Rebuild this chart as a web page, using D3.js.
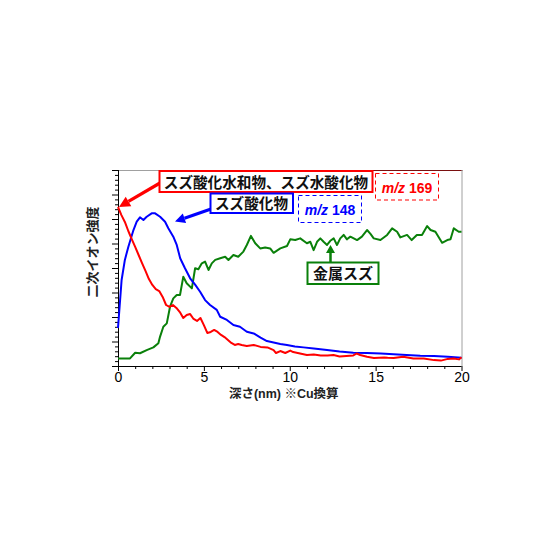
<!DOCTYPE html>
<html>
<head>
<meta charset="utf-8">
<script src="https://cdn.jsdelivr.net/npm/d3@7"></script>
<style>
html,body{margin:0;padding:0;background:#fff;}
svg{display:block;}
</style>
</head>
<body>
<svg id="chart" width="560" height="560"></svg>
<script>
// ---- data (depth in nm, intensity in arbitrary units) ----
const xTicks = [0, 5, 10, 15, 20];
const xTickLabels = ["0", "5", "10", "15", "20"];
const xAxisTitle = "深さ(nm) ※Cu換算";
const yAxisTitle = "二次イオン強度";

const redDepth = [0,0.2,0.4,0.6,0.8,1.0,1.2,1.4,1.6,1.8,2.0,2.2,2.4,2.6,2.8,3.0,3.2,3.4,3.6,3.8,4.0,4.2,4.4,4.6,4.8,5.0,5.2,5.4,5.6,5.8,6.0,6.2,6.4,6.6,6.8,7.0,7.2,7.5,7.9,8.3,8.7,9.06,9.2,9.45,9.74,10.03,10.2,10.6,11.0,11.4,11.8,12.2,12.55,12.9,13.3,13.7,13.9,14.1,14.5,14.9,15.5,15.7,16.05,16.6,17.2,17.8,18.4,18.8,19.2,19.55,19.85,20];
const redValues = [6.49,6.16,5.88,5.51,5.18,4.86,4.53,4.20,3.88,3.55,3.31,3.14,3.06,2.82,2.49,2.41,2.49,2.37,2.20,1.96,2.08,2.12,1.92,1.84,1.96,1.67,1.35,1.39,1.47,1.39,1.27,1.18,1.06,0.94,0.86,0.90,0.86,0.82,0.86,0.78,0.76,0.65,0.53,0.61,0.53,0.63,0.57,0.51,0.45,0.47,0.43,0.43,0.45,0.39,0.41,0.43,0.51,0.45,0.38,0.33,0.35,0.34,0.33,0.38,0.31,0.31,0.24,0.22,0.29,0.31,0.27,0.36];

const blueDepth = [0,0.21,0.4,0.6,0.9,1.09,1.28,1.48,1.67,1.96,2.16,2.45,2.74,2.93,3.22,3.42,3.62,3.9,4.2,4.5,4.78,5.07,5.36,5.75,5.95,6.34,6.72,7.1,7.5,7.9,8.3,8.67,9.06,9.45,9.84,10.3,10.8,11.4,12.17,12.9,13.7,14.5,15.3,16.05,16.8,17.6,18.4,19.2,20];
const blueValues = [1.55,3.51,4.33,4.86,5.55,5.89,6.07,5.96,6.09,6.23,6.23,6.09,5.89,5.62,5.28,4.94,4.40,3.99,3.58,3.31,3.03,2.69,2.49,2.29,2.01,1.88,1.67,1.60,1.40,1.33,1.16,1.02,0.96,0.90,0.86,0.80,0.76,0.71,0.65,0.59,0.54,0.53,0.51,0.48,0.45,0.42,0.41,0.38,0.34];

const greenDepth = [0,0.3,0.7,1.0,1.28,1.67,2.06,2.35,2.45,2.64,2.84,3.03,3.22,3.42,3.61,3.8,4.0,4.3,4.49,4.68,4.88,5.07,5.27,5.46,5.66,5.95,6.24,6.43,6.72,7.0,7.3,7.5,7.74,7.99,8.28,8.57,8.86,9.06,9.45,9.84,10.03,10.32,10.61,11.0,11.2,11.39,11.59,11.78,11.97,12.17,12.36,12.56,12.75,12.94,13.14,13.33,13.53,13.92,14.2,14.5,14.7,14.89,15.28,15.67,15.96,16.25,16.44,16.83,17.1,17.4,17.7,18.0,18.2,18.48,18.87,19.17,19.36,19.55,19.84,20];
const greenValues = [0.31,0.31,0.31,0.54,0.52,0.65,0.76,0.93,1.20,1.60,1.74,2.42,2.76,2.90,2.90,3.64,3.38,3.17,3.99,3.95,4.19,4.26,3.92,4.19,4.33,4.40,4.46,4.33,4.53,4.46,4.67,4.94,5.31,5.01,4.80,4.84,4.80,4.62,4.80,4.90,5.17,5.14,5.21,5.01,5.07,4.73,5.07,5.21,5.07,4.94,5.11,5.21,4.94,5.21,5.35,5.17,5.28,5.14,5.28,5.55,5.39,5.21,5.14,5.35,5.62,5.48,5.25,5.35,5.14,5.35,5.35,5.71,5.55,5.48,5.03,5.14,5.17,5.62,5.48,5.48];

const labels = {
  red: "スズ酸化水和物、スズ水酸化物",
  blue: "スズ酸化物",
  green: "金属スズ",
  redMass: "169",
  blueMass: "148",
  massPrefix: "m/z"
};

// ---- layout ----
const svg = d3.select("#chart");
const pLeft = 118, pRight = 461.5, pTop = 170, pBottom = 366;
const x = d3.scaleLinear().domain([0, 20]).range([pLeft, pRight]);
const y = d3.scaleLinear().domain([0, 8]).range([pBottom, pTop]);
const FONT = "'Liberation Sans', Arial, 'Noto Sans CJK JP', sans-serif";
const JFONT = "'Noto Sans CJK JP', 'Liberation Sans', sans-serif";

// frame (top / right)
svg.append("line").attr("x1", pLeft).attr("x2", 159).attr("y1", pTop + 0.5).attr("y2", pTop + 0.5)
  .attr("stroke", "#a0a0a0").attr("stroke-width", 1);
svg.append("line").attr("x1", 159).attr("x2", pRight + 1).attr("y1", pTop + 0.5).attr("y2", pTop + 0.5)
  .attr("stroke", "#7a1010").attr("stroke-width", 1.2);
svg.append("line").attr("x1", pRight + 0.5).attr("x2", pRight + 0.5).attr("y1", pTop).attr("y2", pBottom)
  .attr("stroke", "#a0a0a0").attr("stroke-width", 1);

// x axis
const xMinor = d3.range(0, 21, 1).filter(v => v % 5 !== 0);
const gx = svg.append("g").attr("transform", `translate(0,${pBottom})`);
gx.call(d3.axisBottom(x).tickValues(xMinor).tickSize(3).tickFormat(""));
gx.call(g => g.select(".domain").remove());
const gx2 = svg.append("g").attr("transform", `translate(0,${pBottom})`)
  .call(d3.axisBottom(x).tickValues(xTicks).tickSize(5).tickPadding(1)
    .tickFormat((d, i) => xTickLabels[i]));
gx2.selectAll("text").attr("font-family", FONT).attr("font-size", 14).attr("fill", "#000");
gx2.select(".domain").attr("stroke", "#000").attr("d", `M${pLeft},0.5H${pRight}`);

// y axis (no labels)
const yMinor = d3.range(0, 40.5, 1).map(v => v / 5).filter((v, i) => i % 5 !== 0);
const yMajor = d3.range(0, 9, 1);
const gy = svg.append("g").attr("transform", `translate(${pLeft},0)`);
gy.call(d3.axisLeft(y).tickValues(yMinor).tickSize(3).tickFormat(""));
gy.select(".domain").remove();
const gy2 = svg.append("g").attr("transform", `translate(${pLeft},0)`);
gy2.call(d3.axisLeft(y).tickValues(yMajor).tickSize(6).tickFormat(""));
gy2.select(".domain").attr("stroke", "#000").attr("d", `M0.5,${pTop}V${pBottom}`);
svg.selectAll(".tick line").attr("stroke", "#000");

// axis titles
svg.append("text").attr("x", (pLeft + pRight) / 2 - 6).attr("y", 397.5)
  .attr("text-anchor", "middle").attr("font-family", FONT).attr("font-weight", "bold")
  .attr("font-size", 12.5).attr("fill", "#222").text(xAxisTitle);
svg.append("text").attr("transform", "translate(97,252) rotate(-90)")
  .attr("text-anchor", "middle").attr("font-family", JFONT).attr("font-weight", "bold")
  .attr("font-size", 13).attr("fill", "#222").text(yAxisTitle);

// series
const line = d3.line().x(d => x(d[0])).y(d => y(d[1]));
function drawSeries(depth, vals, color) {
  svg.append("path").datum(depth.map((d, i) => [d, vals[i]]))
    .attr("d", line).attr("fill", "none").attr("stroke", color)
    .attr("stroke-width", 2).attr("stroke-linejoin", "round");
}
drawSeries(greenDepth, greenValues, "#0a800a");
drawSeries(blueDepth, blueValues, "#0000ff");
drawSeries(redDepth, redValues, "#ff0000");

// arrow helper
function arrow(x1, y1, x2, y2, color, w, headLen, headW) {
  const ang = Math.atan2(y2 - y1, x2 - x1);
  const bx = x2 - headLen * Math.cos(ang), by = y2 - headLen * Math.sin(ang);
  svg.append("line").attr("x1", x1).attr("y1", y1).attr("x2", bx).attr("y2", by)
    .attr("stroke", color).attr("stroke-width", w);
  const px = -Math.sin(ang) * headW, py = Math.cos(ang) * headW;
  svg.append("path").attr("d", `M${x2},${y2}L${bx + px},${by + py}L${bx - px},${by - py}Z`)
    .attr("fill", color);
}

// box helper
function box(x0, y0, w, h, color, dashed, sw) {
  svg.append("rect").attr("x", x0).attr("y", y0).attr("width", w).attr("height", h)
    .attr("fill", "#fff").attr("stroke", color).attr("stroke-width", sw)
    .attr("stroke-dasharray", dashed ? "4,3" : null);
}

// red label + arrow
arrow(160, 183, x(redDepth[0]) + 1, y(redValues[0]), "#ff0000", 3.2, 11, 5.5);
box(159.5, 171, 213, 21, "#ff0000", false, 2);
svg.append("text").attr("x", 266).attr("y", 187.5).attr("text-anchor", "middle")
  .attr("font-family", JFONT).attr("font-weight", "bold").attr("font-size", 14.6)
  .attr("fill", "#111").text(labels.red);

// blue label + arrow
arrow(211, 209, 175, 221.5, "#0000ff", 3, 10, 5);
box(210.5, 193.5, 82.5, 19.5, "#0000ff", false, 2);
svg.append("text").attr("x", 251.5).attr("y", 209).attr("text-anchor", "middle")
  .attr("font-family", JFONT).attr("font-weight", "bold").attr("font-size", 14.6)
  .attr("fill", "#111").text(labels.blue);

// m/z boxes
box(298.5, 195.5, 63, 27, "#0000ff", true, 1);
const tb = svg.append("text").attr("x", 330).attr("y", 215).attr("text-anchor", "middle")
  .attr("font-family", FONT).attr("font-weight", "bold").attr("font-size", 14).attr("fill", "#0000ff");
tb.append("tspan").attr("font-style", "italic").text(labels.massPrefix + " ");
tb.append("tspan").text(labels.blueMass);

box(375.5, 173.5, 63, 26.5, "#ff0000", true, 1);
const tr = svg.append("text").attr("x", 407).attr("y", 193).attr("text-anchor", "middle")
  .attr("font-family", FONT).attr("font-weight", "bold").attr("font-size", 14).attr("fill", "#ff0000");
tr.append("tspan").attr("font-style", "italic").text(labels.massPrefix + " ");
tr.append("tspan").text(labels.redMass);

// green label + arrow
arrow(330.5, 263, 330.5, 245, "#0a800a", 2.5, 8, 4.5);
box(307.5, 262.5, 71, 21.5, "#0a800a", false, 2);
svg.append("text").attr("x", 343).attr("y", 279).attr("text-anchor", "middle")
  .attr("font-family", JFONT).attr("font-weight", "bold").attr("font-size", 15)
  .attr("fill", "#111").text(labels.green);
</script>
</body>
</html>
